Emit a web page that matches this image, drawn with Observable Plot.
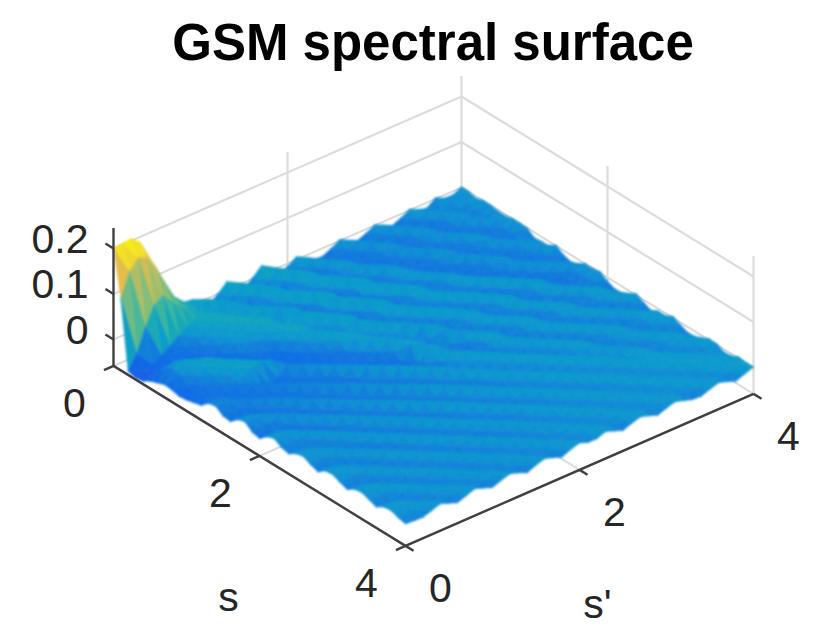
<!DOCTYPE html>
<html>
<head>
<meta charset="utf-8">
<script src="https://cdn.jsdelivr.net/npm/d3@7"></script>
<script src="https://cdn.jsdelivr.net/npm/@observablehq/plot@0.6"></script>
<style>
  body { margin: 0; background: #fff; width: 830px; }
  #title { height: 72px; padding-left: 36px; width: 794px; text-align: center; white-space: nowrap;
    font: bold 51px "Liberation Sans", sans-serif; line-height: 86px; color: #000; }
  .surface { filter: blur(1.2px); }
</style>
</head>
<body>
<div id="title">GSM spectral surface</div>
<div id="chart"></div>
<script>
const sTicks = [0, 2, 4]
const sPrimeTicks = [0, 2, 4]
const zTicks = [0, 0.1, 0.2]
const zTickLabels = ['0', '0.1', '0.2']
const zFloor = -0.058
const zTop = 0.245

// grid positions along both s and s'
const gridSteps = [0,.1,.2,.3,.4,.5,.6,.7,.8,.9,1,1.1,1.2,1.3,1.4,1.5,1.6,1.7,1.8,1.9,2,2.1,2.2,2.3,2.4,2.5,2.6,2.7,2.8,2.9,3,3.1,3.2,3.3,3.4,3.5,3.6,3.7,3.8,3.9,4]

// surface height x 1000. one row per s, one column per s'
const zMilli = [
[200,203,205,190,150,110,60,35,15,12, -2,-14,0,18,4,-12,2,20,6,-16, -6,6,-4,-16,-18,-9,2,-8,-17,-9, 1,-8,-17,-9,2,-7,-12,2,-7,-8,2],
[100,150,172,165,135,95,55,32,18,6, 14,2,-14,0,16,2,-14,0,16,2, -17,-8,4,-6,-17,-20,-9,1,-9,-18, -9,1,-9,-18,-9,2,-9,-14,1,-8,1],
[-50,-20,30,70,82,62,42,26,14,2, 0,14,0,-16,-2,14,0,-16,-2,14, 0,-18,-8,3,-8,-18,-21,-11,0,-10, -19,-10,0,-10,-19,-10,1,-9,-10,0,-4],
[-55,-50,-42,-30,-18,-4,10,16,17,14, 2,-8,10,-2,-18,-4,12,-2,-18,-4, 12,-2,-18,-9,3,-9,-18,-20,-12,0, -11,-18,-11,0,-11,-18,-11,0,-10,-11,1],
[-52,-46,-36,-28,-24,-17,-4,9,15,16, 10,0,12,-2,-18,-4,13,-2,-18,-4, 12,-2,-16,-9,3,-9,-18,-20,-12,0, -11,-18,-11,0,-11,-18,-11,0,-11,-13,1],
[-42,-30,-22,-24,-26,-22,-12,0,10,16, 17,8,-4,14,-2,-20,-4,14,-2,-20, -4,13,-4,-18,-9,4,-9,-18,-20,-12, 0,-11,-18,-11,0,-11,-18,-11,0,-10,-2],
[-36,-14,-4,-12,-22,-28,-22,-10,2,10, 16,17,2,-10,14,-4,-22,-6,14,-4, -22,-6,12,-4,-18,-10,4,-10,-18,-20, -12,0,-11,-18,-11,0,-11,-18,-11,0,-3],
[-30,-4,6,0,-12,-26,-30,-18,-6,2, 6,14,16,0,-14,14,-4,-22,-6,14, -4,-22,-6,12,-4,-18,-10,4,-10,-18, -20,-12,0,-11,-18,-11,0,-11,-18,-11,1],
[-32,-8,4,10,6,-10,-26,-30,-16,-4, -8,6,15,0,-6,15,-4,-22,-6,14, -4,-22,-6,12,-4,-18,-5,4,-10,-18, -20,-12,0,-11,-18,-11,0,-11,-18,-11,1],
[-36,-20,-6,6,12,4,-10,-24,-28,-16, -22,-6,10,15,6,-6,14,-6,-22,-6, 13,-5,-20,-6,11,-5,-18,-5,3,-10, -18,-20,-12,0,-11,-18,-11,0,-11,-16,0],
[-34,-28,-16,-4,8,12,4,-10,-22,-28, -33,-20,-4,13,4,-10,-4,13,-5,-21, -6,12,-5,-20,-6,10,-5,-18,-6,3, -10,-18,-20,-12,0,-11,-18,-11,0,-10,-12],
[-30,-24,-22,-14,-2,8,12,4,-8,-20, -34,-32,-18,-4,12,4,-10,-4,12,-5, -20,-5,11,-5,-19,-5,9,-5,-18,-6, 2,-10,-18,-20,-12,0,-11,-18,-11,0,-10],
[-26,-18,-22,-22,-8,-2,8,12,6,-8, -22,-32,-30,-16,-2,12,2,-8,12,-5, -20,-5,11,-5,-19,-5,9,-5,-18,-6, 8,-10,-18,-20,-12,0,-11,-18,-11,0,-10],
[-12,-10,-18,-24,-26,-10,-20,-28,-20,-2, -10,-22,-30,-28,-14,0,10,0,-8,10, -5,-19,-5,10,-5,-18,-5,8,-5,-17, -6,7,-10,-17,-20,-12,0,-10,-17,-10,1],
[-8,-8,-8,-20,-26,-24,-8,-18,-26,-20, 0,-8,-20,-28,-27,-12,10,2,-6,-4, 9,-5,-18,-5,9,-5,-17,-5,8,-5, -17,-6,7,-10,-17,-20,-12,0,-10,-17,-10],
[-20,-20,-18,-6,-18,-24,-22,-6,-16,-24, -18,0,-8,-20,-28,-26,-12,9,2,-8, -4,9,-5,-18,-5,9,-5,-17,-5,8, -5,-17,-6,7,-10,-17,-20,-12,0,-10,-15],
[-22,-22,-22,-16,-4,-16,-22,-20,-4,-14, -22,-16,2,-6,-18,-26,-24,-10,8,1, -8,-16,8,-5,-17,-5,8,-5,-17,-5, 7,-5,-17,-6,6,-10,-17,-20,-10,0,-10],
[-8,-6,-14,-22,-15,-3,-15,-21,-19,-3, -12,-22,-15,3,-6,-17,-25,-24,-8,8, 0,-8,-14,8,-5,-17,-5,7,-5,-16, -5,6,-5,-17,-6,6,-10,-17,-19,-10,0],
[-3,-3,-2,-14,-21,-14,-2,-14,-20,-18, -2,-11,-21,-15,4,-6,-16,-24,-22,8, 0,-8,-15,8,-5,-17,-5,7,-5,-16, -5,6,-5,-17,-6,6,-6,-17,-19,-10,0],
[-16,-16,-12,-1,-13,-20,-14,-1,-13,-19, -18,-1,-10,-20,-15,5,-5,-15,-22,-20, 8,0,-8,-15,7,-5,-16,-5,6,-5, -16,-5,5,-5,-16,-6,5,-6,-16,-8,3],
[-20,-20,-19,-12,0,-12,-19,-14,0,-12, -19,-17,0,-10,-19,-14,6,-4,-15,-10, 8,-2,-14,-18,-6,7,-5,-16,-5,6, -5,-16,-5,5,-5,-16,-6,5,-6,-16,-8],
[-6,-3,-10,-18,-12,0,-12,-18,-13,0, -11,-18,-16,1,-9,-18,-13,6,-4,-14, -6,8,-3,-14,-17,-6,7,-5,-16,-5, 6,-5,-16,-5,5,-5,-16,-6,5,-6,-15],
[0,0,1,-11,-18,-12,1,-11,-18,-13, 1,-10,-17,-15,2,-8,-17,-12,6,-4, -13,-4,8,-4,-14,-6,6,-5,-15,-5, 6,-5,-15,-5,5,-5,-15,-6,5,-6,-14],
[-10,-10,-8,1,-10,-17,-12,2,-10,-17, -13,2,-9,-16,-14,3,-7,-16,-11,6, -4,-12,-3,8,-3,-13,-6,6,-5,-15, -5,6,-5,-15,-5,5,-5,-15,-6,4,-6],
[-14,-14,-14,-8,2,-9,-16,-11,3,-9, -16,-13,3,-8,-15,-13,4,-6,-15,-10, 6,-4,-12,-2,8,-3,-12,-6,5,-5, -14,-5,5,-5,-14,-5,4,-5,-14,-6,3],
[-4,-2,-9,-14,-8,3,-9,-15,-11,3, -8,-15,-12,4,-7,-15,-12,5,-5,-14, -9,6,-3,-12,-2,7,-3,-11,-5,5, -5,-14,-5,5,-5,-14,-5,4,-5,-14,-6],
[0,0,1,-9,-14,-8,3,-8,-15,-11, 3,-7,-14,-12,4,-6,-14,-11,5,-5, -13,-8,6,-3,-11,-2,7,-3,-10,-5, 5,-5,-14,-5,5,-5,-14,-5,4,-5,-13],
[-8,-8,-6,2,-8,-14,-8,3,-8,-14, -11,4,-7,-14,-11,5,-6,-14,-10,5, -5,-13,-7,6,-3,-11,-2,7,-3,-10, -5,5,-5,-13,-5,5,-5,-13,-5,4,-5],
[-14,-14,-14,-7,2,-8,-14,-8,3,-7, -14,-10,4,-6,-14,-10,5,-5,-13,-9, 5,-4,-12,-6,6,-3,-10,-2,6,-3, -9,5,-5,-13,-5,4,-5,-13,-5,4,-5],
[-2,0,-8,-13,-7,2,-8,-14,-8,3, -7,-14,-10,4,-6,-13,-9,5,-5,-13, -8,5,-4,-11,-5,6,-3,-10,-2,6, -3,-9,5,-5,-13,-5,4,-5,-12,-5,3],
[0,0,1,-8,-13,-7,3,-7,-13,-8, 3,-7,-13,-10,4,-5,-13,-9,5,-5, -12,-8,5,-4,-11,-5,6,-3,-10,-2, 6,-3,-8,5,-5,-12,-5,4,-5,-12,-5],
[-7,-7,-5,2,-7,-13,-7,3,-7,-13, -8,3,-6,-13,-9,4,-5,-12,-9,5, -5,-12,-8,5,-4,-11,-5,6,-3,-9, -2,6,-3,-8,5,-5,-12,-5,4,-5,-12],
[-13,-13,-13,-7,2,-7,-12,-7,3,-7, -12,-8,3,-6,-12,-9,4,-5,-12,-8, 5,-4,-11,-7,5,-4,-10,-5,6,-3, -9,-2,6,-3,6,-4,-11,-5,4,-5,-11],
[-3,-1,-7,-13,-7,2,-7,-12,-7,3, -6,-12,-8,3,-6,-12,-9,4,-5,-11, -7,5,-4,-10,-6,5,-4,-10,-5,6, -3,-9,-2,6,0,6,-4,-10,-4,4,-4],
[0,0,1,-7,-12,-6,2,-6,-12,-7, 3,-6,-12,-8,3,-5,-12,-8,4,-5, -11,-6,5,-4,-10,-5,5,-4,-9,-4, 6,-3,-8,-2,6,0,5,-4,-9,-4,3],
[-6,-6,-4,2,-6,-12,-6,2,-6,-12, -7,3,-6,-12,-8,4,-5,-11,-8,4, -5,-11,-6,5,-4,-10,-5,5,-4,-9, -4,6,-3,-8,-2,6,0,5,-4,-9,2],
[-12,-12,-12,-6,2,-6,-12,-6,2,-6, -12,-7,3,-5,-11,-8,3,-5,-11,-7, 4,-5,-10,-6,5,-4,-9,-5,5,-4, -9,-3,6,-3,-8,-2,6,0,5,-4,-6],
[-2,0,-6,-12,-6,2,-6,-11,-6,2, -6,-11,-7,3,-5,-11,-7,3,-5,-10, -6,4,-5,-10,-5,5,-4,-9,-4,5, -4,-9,-3,6,-3,-8,-2,6,0,4,-4],
[0,0,1,-6,-11,-6,2,-5,-11,-6, 2,-5,-11,-7,3,-5,-10,-7,3,-5, -10,-6,4,-5,-9,-5,5,-4,-9,-4, 5,-4,-8,-3,5,-3,-8,-2,5,0,3],
[-6,-6,-4,1,-5,-11,-5,2,-5,-11, -6,2,-5,-10,-7,3,-5,-10,-6,3, -5,-9,-6,4,-5,-9,-5,5,-4,-8, -4,5,-4,-8,-3,5,-3,-8,-2,5,1],
[-10,-11,-12,-6,1,-6,-13,-6,1,-6, -13,-6,0,-6,-14,-6,0,-6,-13,-5, 1,-6,-6,1,-6,-13,-6,0,-6,-13, -6,0,-6,-12,-13,-6,0,-6,-13,-6,1]
]

zMilli.forEach((row, i) => { if (row.length != 41) throw new Error('row ' + i + ' has ' + row.length) })

// fixed view of the box: s runs down-right, s' runs up-right, z runs up
const viewX = (s, sp) => 113 + 73 * s + 87 * sp
const viewY = (s, sp, z) => 339 + 45 * s - 38 * sp - 455 * z

const seg = (a, b) => ({
  x1: viewX(a[0], a[1]), y1: viewY(a[0], a[1], a[2]),
  x2: viewX(b[0], b[1]), y2: viewY(b[0], b[1], b[2])
})

// back walls and floor
let gridLines = []
zTicks.forEach(z => {
  gridLines.push(seg([0, 0, z], [0, 4, z]))
  gridLines.push(seg([0, 4, z], [4, 4, z]))
})
sPrimeTicks.slice(1).forEach(sp => {
  gridLines.push(seg([0, sp, zFloor], [0, sp, zTop]))
  gridLines.push(seg([0, sp, zFloor], [4, sp, zFloor]))
})
sTicks.slice(1).forEach(s => {
  gridLines.push(seg([s, 4, zFloor], [s, 4, zTop]))
  gridLines.push(seg([s, 0, zFloor], [s, 4, zFloor]))
})
gridLines.push(seg([0, 0, zFloor], [0, 4, zFloor]))

// two triangles per grid cell, split along the ridges, far ones first
let facets = []
let id = 0
const addFacet = cell => {
  let v = d3.mean(cell, c => zMilli[c[0]][c[1]]) / 1000
  cell.forEach(c => facets.push({
    id: id,
    v: v,
    x: viewX(gridSteps[c[0]], gridSteps[c[1]]),
    y: viewY(gridSteps[c[0]], gridSteps[c[1]], zMilli[c[0]][c[1]] / 1000)
  }))
  id++
}
for (let i = 0; i < 40; i++) {
  for (let j = 39; j >= 0; j--) {
    addFacet([[i, j], [i, j + 1], [i + 1, j + 1]])
    addFacet([[i, j], [i + 1, j], [i + 1, j + 1]])
  }
}

const axisLines = [
  seg([0, 0, zFloor], [0, 0, zTop]),
  seg([0, 0, zFloor], [4, 0, zFloor]),
  seg([4, 0, zFloor], [4, 4, zFloor])
]
const tickLen = 0.11
const axisTicks = [
  ...zTicks.map(z => seg([0, 0, z], [-tickLen, 0, z])),
  ...sTicks.map(s => seg([s, 0, zFloor], [s, -tickLen, zFloor])),
  ...sPrimeTicks.map(sp => seg([4, sp, zFloor], [4 + tickLen, sp, zFloor]))
]

const labelFont = { fontFamily: 'Liberation Sans', fontSize: 41, fill: '#262626' }

let chart = Plot.plot({
  width: 830,
  height: 557,
  margin: 0,
  x: { domain: [0, 830], range: [0, 830], axis: null },
  y: { domain: [72, 629], range: [0, 557], axis: null },
  color: {
    type: 'linear',
    domain: [-0.05, -0.028, -0.017, -0.011, -0.005, 0, 0.006, 0.02, 0.05, 0.1, 0.15, 0.2],
    range: ['#1560e4', '#0c6de6', '#1177dc', '#1080d9', '#0f8ed4', '#0c98ce', '#0b9ccb', '#14a8b8', '#45b899', '#95be70', '#e6bc4c', '#f9f30f']
  },
  marks: [
    Plot.link(gridLines, { x1: 'x1', y1: 'y1', x2: 'x2', y2: 'y2', stroke: '#dcdcdc', strokeWidth: 2.2 }),
    Plot.line(facets, {
      x: 'x', y: 'y', z: 'id',
      fill: 'v', stroke: 'v', strokeWidth: 0.6,
      curve: 'linear-closed',
      className: 'surface'
    }),
    Plot.link(axisLines, { x1: 'x1', y1: 'y1', x2: 'x2', y2: 'y2', stroke: '#404040', strokeWidth: 2.4 }),
    Plot.link(axisTicks, { x1: 'x1', y1: 'y1', x2: 'x2', y2: 'y2', stroke: '#404040', strokeWidth: 2.4 }),
    Plot.text(zTicks, {
      x: () => viewX(0, 0), y: z => viewY(0, 0, z),
      text: (z, i) => zTickLabels[i],
      textAnchor: 'end', dx: -25, dy: -9, ...labelFont
    }),
    Plot.text(sTicks, {
      x: s => viewX(s, 0), y: s => viewY(s, 0, zFloor),
      text: s => String(s),
      dx: -39, dy: 38, ...labelFont
    }),
    Plot.text(sPrimeTicks, {
      x: sp => viewX(4, sp), y: sp => viewY(4, sp, zFloor),
      text: sp => String(sp),
      dx: 35, dy: 43, ...labelFont
    }),
    Plot.text([2], {
      x: s => viewX(s, 0), y: s => viewY(s, 0, zFloor),
      text: () => 's', dx: -31, dy: 142, ...labelFont
    }),
    Plot.text([2], {
      x: sp => viewX(4, sp), y: sp => viewY(4, sp, zFloor),
      text: () => "s'", dx: 18, dy: 135, ...labelFont
    })
  ]
})
d3.select('#chart').append(() => chart)
</script>
</body>
</html>
